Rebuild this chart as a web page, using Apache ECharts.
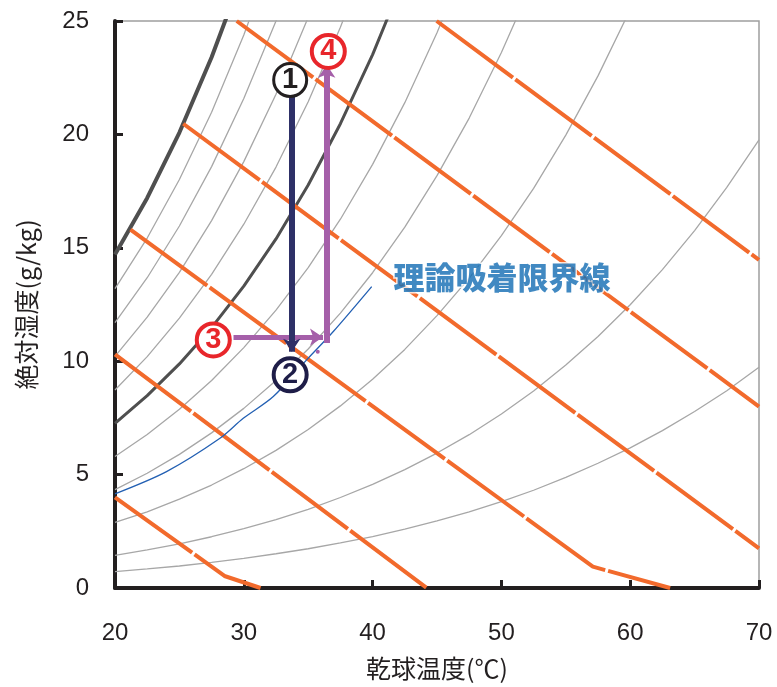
<!DOCTYPE html>
<html>
<head>
<meta charset="utf-8">
<script src="https://cdn.jsdelivr.net/npm/echarts@6/dist/echarts.min.js"></script>
<style>
  html, body { margin: 0; padding: 0; background: #fff; }
  #main { width: 777px; height: 687px; }
</style>
</head>
<body>
<div id="main"></div>
<script>
// dry bulb temperatures for the RH curves
const temps = [20, 22.5, 25, 27.5, 30, 32.5, 35, 37.5, 40, 42.5, 45, 47.5, 50, 52.5, 55, 57.5, 60, 62.5, 65, 67.5, 70];

// absolute humidity (g/kg) along each relative humidity curve
const rh100 = [14.70, 17.20, 20.08, 23.40, 27.20];
const rh90 = [13.20, 15.43, 18.01, 20.98, 24.38, 28.27];
const rh80 = [11.70, 13.68, 15.96, 18.58, 21.58, 25.00, 28.92];
const rh70 = [10.21, 11.94, 13.92, 16.20, 18.80, 21.77, 25.16];
const rh60 = [8.73, 10.20, 11.90, 13.83, 16.04, 18.56, 21.44, 24.72, 28.44];
const rh50 = [7.26, 8.48, 9.88, 11.48, 13.31, 15.39, 17.77, 20.47, 23.52, 26.98];
const rh40 = [5.80, 6.77, 7.88, 9.15, 10.60, 12.25, 14.13, 16.26, 18.68, 21.40, 24.48, 27.94];
const rh30 = [4.34, 5.06, 5.89, 6.84, 7.92, 9.15, 10.54, 12.12, 13.90, 15.91, 18.18, 20.72, 23.61, 26.82];
const rh20 = [2.89, 3.36, 3.92, 4.54, 5.26, 6.07, 6.99, 8.03, 9.20, 10.52, 12.01, 13.66, 15.54, 17.62, 19.97, 22.58, 25.50];
const rh10 = [1.44, 1.68, 1.95, 2.26, 2.62, 3.02, 3.47, 3.99, 4.57, 5.22, 5.95, 6.76, 7.67, 8.69, 9.83, 11.09, 12.49, 14.04, 15.76, 17.66, 19.76];
const rh5 = [0.72, 0.84, 0.97, 1.13, 1.31, 1.51, 1.73, 1.99, 2.27, 2.60, 2.96, 3.36, 3.81, 4.31, 4.88, 5.50, 6.18, 6.94, 7.78, 8.70, 9.73];

// enthalpy lines [temp, g/kg]
const enth1 = [[20, 4.0], [28.5, 0.53], [31.3, 0]];
const enth2 = [[20, 10.3], [44.2, 0]];
const enth3 = [[21.2, 15.8], [57.1, 0.94], [63.1, 0]];
const enth4 = [[25.3, 20.47], [70, 1.75]];
const enth5 = [[29.45, 25], [70, 8.0]];
const enth6 = [[44.97, 25], [70, 14.47]];

// theoretical adsorption limit line
const limitT = [20, 24.0, 28.15, 29.96, 32.29, 34.88, 36.95, 39.93];
const limitX = [4.15, 5.13, 6.6, 7.48, 8.44, 10.06, 11.31, 13.29];

// process arrows
const stepDown = [[33.72, 21.67], [33.72, 10.42]];
const stepRight = [[29.2, 11.06], [36.15, 11.06]];
const stepUp = [[36.44, 10.8], [36.44, 23.07]];

// circled markers
const markNames = ['1', '2', '3', '4'];
const markPos = [[33.6, 22.4], [33.6, 9.4], [27.63, 10.94], [36.56, 23.66]];
const strayDot = [[35.74, 10.42]];
const limitLabelPos = [50.05, 13.72];

const xTicks = [20, 70, 10];
const yTicks = [0, 25, 5];

const chart = echarts.init(document.getElementById('main'), null, { renderer: 'canvas' });

const axisColor = '#231F20';
const latin = 'Liberation Sans';
const cjk = 'Noto Sans CJK JP';

function rhCurve(vals, color, width) {
  return {
    type: 'line',
    data: vals.map((v, i) => [temps[i], v]),
    symbol: 'none',
    silent: true,
    clip: true,
    lineStyle: { color: color, width: width },
    z: 2
  };
}

function enthLine(pts) {
  return {
    type: 'line',
    data: pts,
    symbol: 'none',
    silent: true,
    clip: true,
    lineStyle: { color: '#F26A2C', width: 4, type: [95, 3], cap: 'butt' },
    z: 3
  };
}

function arrow(pts, color, width) {
  return {
    type: 'lines',
    coordinateSystem: 'cartesian2d',
    silent: true,
    symbol: ['none', 'arrow'],
    symbolSize: 13,
    lineStyle: { color: color, width: width, opacity: 1, curveness: 0 },
    data: [{ coords: pts }],
    z: 6
  };
}

const ringColors = ['#231F20', '#1E1D48', '#E8262B', '#E8262B'];
const ringWidths = [3, 4, 4, 4];

var option = {
  animation: false,
  backgroundColor: '#ffffff',
  grid: {
    left: 115, right: 18, top: 21, bottom: 99,
    show: true, borderColor: '#9F9F9F', borderWidth: 1.5, backgroundColor: '#fff'
  },
  xAxis: {
    type: 'value',
    min: xTicks[0], max: xTicks[1], interval: xTicks[2],
    name: '乾球温度(℃)',
    nameLocation: 'middle',
    nameGap: 68,
    nameTextStyle: { fontSize: 25, fontFamily: cjk, color: axisColor },
    axisLine: { show: true, lineStyle: { color: axisColor, width: 4 } },
    axisTick: { show: true, inside: true, length: 8, lineStyle: { color: axisColor, width: 3 } },
    axisLabel: { fontSize: 24, fontFamily: latin, color: axisColor, margin: 33 },
    splitLine: { show: false }
  },
  yAxis: {
    type: 'value',
    min: yTicks[0], max: yTicks[1], interval: yTicks[2],
    name: '絶対湿度(g/kg)',
    nameLocation: 'middle',
    nameGap: 76,
    nameTextStyle: { fontSize: 25, fontFamily: cjk, color: axisColor },
    axisLine: { show: true, lineStyle: { color: axisColor, width: 4 } },
    axisTick: { show: true, inside: true, length: 8, lineStyle: { color: axisColor, width: 3 } },
    axisLabel: { fontSize: 24, fontFamily: latin, color: axisColor, margin: 26 },
    splitLine: { show: false }
  },
  series: [
    rhCurve(rh5, '#A7A7A7', 1.3),
    rhCurve(rh10, '#A7A7A7', 1.3),
    rhCurve(rh20, '#A7A7A7', 1.3),
    rhCurve(rh30, '#A7A7A7', 1.3),
    rhCurve(rh40, '#A7A7A7', 1.3),
    rhCurve(rh60, '#A7A7A7', 1.3),
    rhCurve(rh70, '#A7A7A7', 1.3),
    rhCurve(rh80, '#A7A7A7', 1.3),
    rhCurve(rh90, '#A7A7A7', 1.3),
    rhCurve(rh50, '#4F4F4F', 3),
    rhCurve(rh100, '#4F4F4F', 4),
    enthLine(enth1),
    enthLine(enth2),
    enthLine(enth3),
    enthLine(enth4),
    enthLine(enth5),
    enthLine(enth6),
    {
      type: 'line',
      data: limitT.map((t, i) => [t, limitX[i]]),
      symbol: 'none',
      silent: true,
      smooth: 0.3,
      lineStyle: { color: '#2360B3', width: 1.3 },
      z: 4
    },
    arrow(stepRight, '#A55FA9', 5),
    arrow(stepUp, '#A55FA9', 6),
    arrow(stepDown, '#2E3067', 6),
    {
      type: 'scatter',
      data: strayDot,
      symbolSize: 4,
      itemStyle: { color: '#A55FA9', opacity: 1 },
      silent: true,
      z: 6
    },
    {
      type: 'scatter',
      symbol: 'circle',
      symbolSize: 33,
      silent: true,
      z: 8,
      data: markNames.map((n, i) => ({
        value: markPos[i],
        name: n,
        itemStyle: { color: '#ffffff', opacity: 1, borderColor: ringColors[i], borderWidth: ringWidths[i] },
        label: { color: ringColors[i] }
      })),
      label: {
        show: true,
        position: 'inside',
        formatter: '{b}',
        fontSize: 29,
        fontWeight: 900,
        fontFamily: latin
      }
    },
    {
      type: 'scatter',
      symbolSize: 0,
      silent: true,
      z: 9,
      data: [{ value: limitLabelPos, name: '理論吸着限界線' }],
      label: {
        show: true,
        position: 'inside',
        formatter: '{b}',
        fontSize: 31,
        fontWeight: 900,
        fontFamily: cjk,
        color: '#126BB3',
        textBorderColor: '#ffffff',
        textBorderWidth: 3
      }
    }
  ]
};

chart.setOption(option);
</script>
</body>
</html>
